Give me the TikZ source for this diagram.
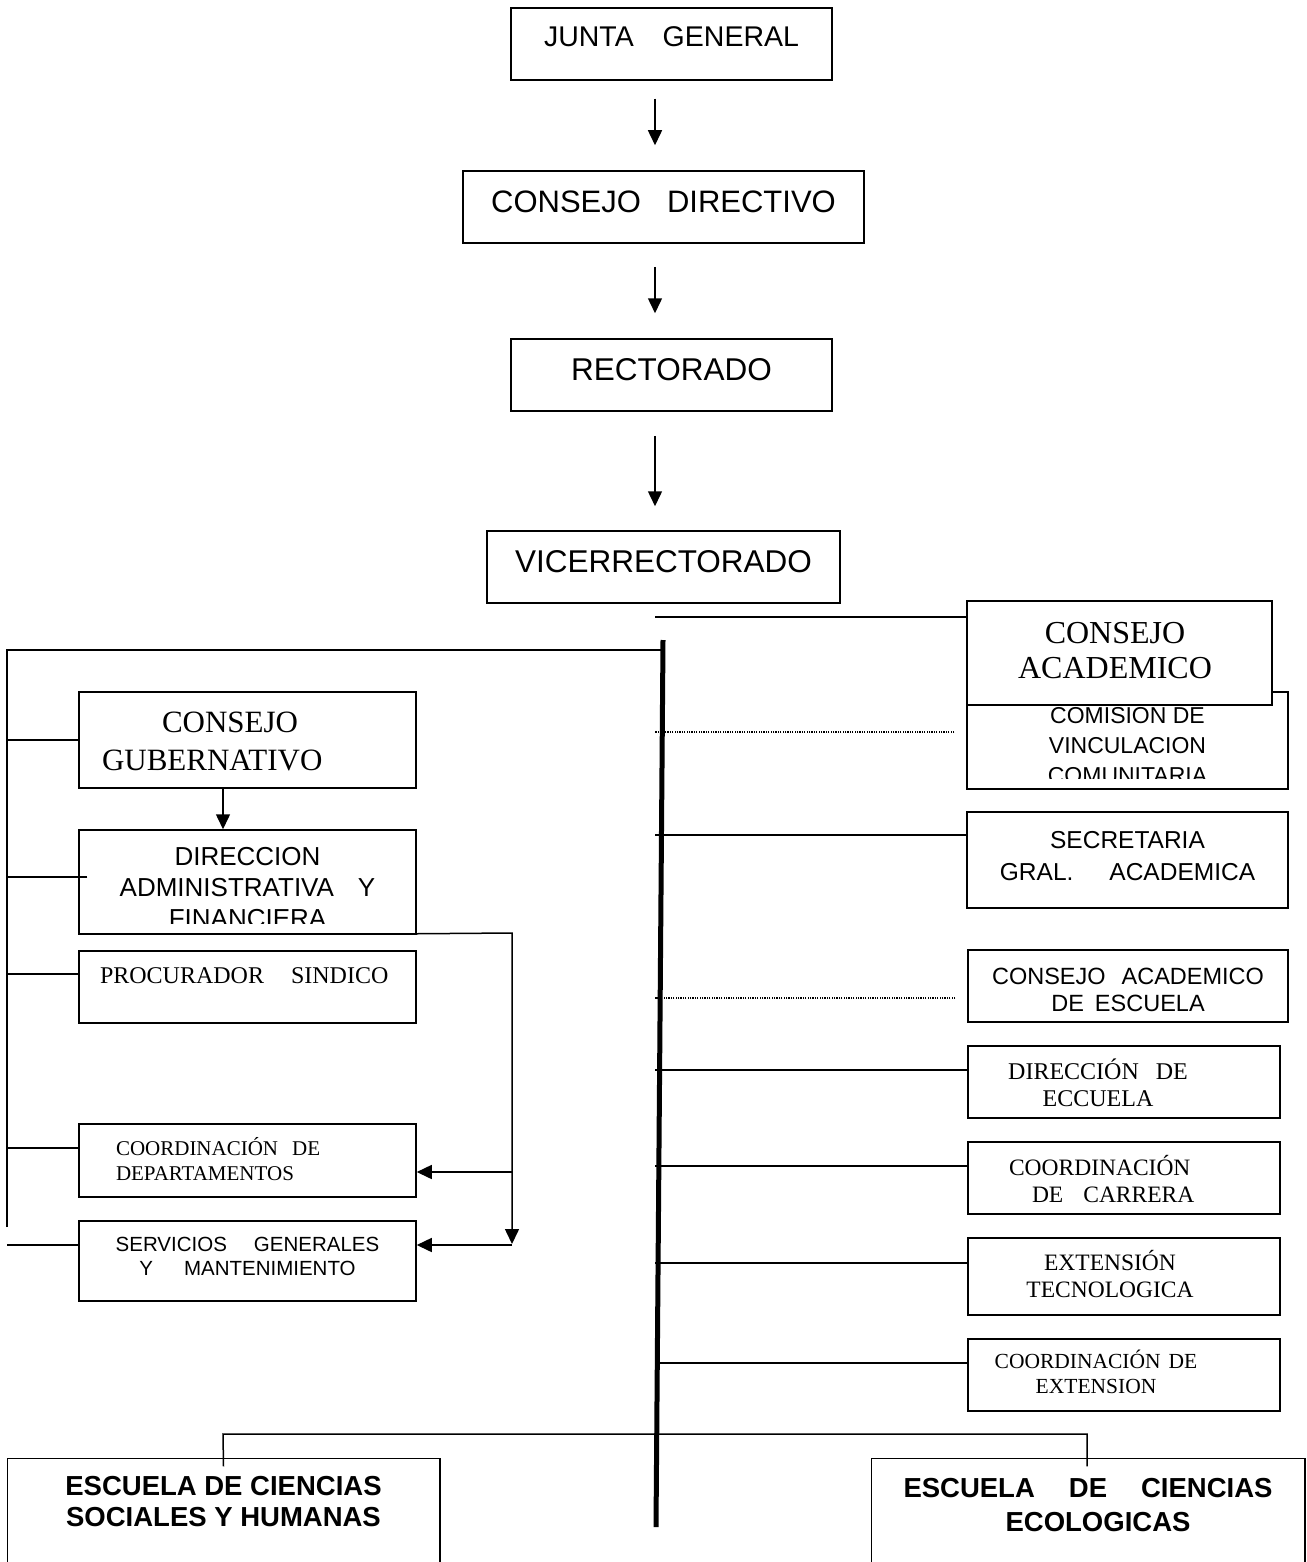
\documentclass[tikz,border=0pt]{standalone}
\usepackage{fontspec}
\setmainfont{Liberation Sans}
\newfontfamily\tnr{Liberation Serif}
\usetikzlibrary{arrows.meta,calc}
\newcommand\fs[2]{\fontsize{#1pt}{#2pt}\selectfont}
% centred lines: #1 = twice the x offset, #2 = raise of first baseline
\newcommand\tc[3]{\makebox[0pt][c]{\raisebox{#2pt}[0pt][0pt]{\hspace*{#1pt}\begin{tabular}[t]{@{}c@{}}#3\end{tabular}}}}
% left aligned lines: #1 = left edge offset, #2 = raise of first baseline
\newcommand\tl[3]{\makebox[0pt][l]{\hspace*{#1pt}\raisebox{#2pt}[0pt][0pt]{\begin{tabular}[t]{@{}l@{}}#3\end{tabular}}}}
\tikzset{
  box/.style={draw, rectangle, inner sep=0pt, fill=white, line width=1.5pt},
  arr/.style={-{Triangle[length=15pt,width=14pt]}},
  dotline/.style={line width=1.3pt, dash pattern=on 1.2pt off 1.2pt},
  spine/.style={line width=5pt}
}
\begin{document}
\begin{tikzpicture}[x=1pt,y=-1pt,line width=1.5pt]
\useasboundingbox (0,0) rectangle (1306,1562);
\coordinate (sx) at (655,0);
\coordinate (lx) at (7,0);
\coordinate (mx) at (512,0);

% ---- top chain ----
\node[box, minimum width=321pt, minimum height=72pt] (junta) at (671.5,44)
  {\fs{28.5}{34}\tc{0}{-3}{JUNTA\hspace{29pt}GENERAL}};
\node[box, minimum width=401pt, minimum height=72pt] (cdir) at (663.5,207)
  {\fs{31}{37}\tc{0}{-6}{CONSEJO\hspace{26pt}DIRECTIVO}};
\node[box, minimum width=321pt, minimum height=72pt] (rect) at (671.5,375)
  {\fs{31.5}{37}\tc{0}{-5}{RECTORADO}};
\node[box, minimum width=353pt, minimum height=72pt] (vice) at (663.5,567)
  {\fs{31.5}{37}\tc{0}{-5}{VICERRECTORADO}};

\draw[arr] ([xshift=-16.5pt,yshift=-18pt]junta.south) -- ([xshift=-8.5pt,yshift=25pt]cdir.north);
\draw[arr] ([xshift=-8.5pt,yshift=-23pt]cdir.south) -- ([xshift=-16.5pt,yshift=25pt]rect.north);
\draw[arr] ([xshift=-16.5pt,yshift=-24pt]rect.south) -- ([xshift=-8.5pt,yshift=24pt]vice.north);

% ---- spine ----
\coordinate (spT) at (663,640);
\coordinate (spB) at (656,1527);
\draw[spine] (spT) -- (spB);

% ---- right column ----
\node[box, minimum width=321pt, minimum height=97pt] (com) at (1127.5,740.5) {};
\begin{scope}
  \clip (968,700) rectangle (1287,778);
  \node[inner sep=0pt] (comT) at (1127.5,740.5)
    {\fs{23}{30}\tc{0}{17.5}{COMISION DE\\VINCULACION\\COMUNITARIA}};
\end{scope}
\node[box, minimum width=305pt, minimum height=104pt] (cacad) at (1119.5,653)
  {\tnr\fs{32}{35}\tc{-9}{10}{CONSEJO\\ACADEMICO}};
\node[box, minimum width=321pt, minimum height=96pt] (sec) at (1127.5,860)
  {\fs{24.5}{32}\tc{0}{12}{SECRETARIA\\GRAL.\hspace{36pt}ACADEMICA}};
\node[box, minimum width=320pt, minimum height=72pt] (cae) at (1128,986)
  {\fs{23.5}{27}\tc{0}{2}{CONSEJO\hspace{16pt}ACADEMICO\\DE\hspace{11pt}ESCUELA}};
\node[box, minimum width=312pt, minimum height=72pt] (desc) at (1124,1082)
  {\tnr\fs{24}{27}\tc{-52}{3}{DIRECCIÓN\hspace{17pt}DE\\ECCUELA}};
\node[box, minimum width=312pt, minimum height=72pt] (ccar) at (1124,1178)
  {\tnr\fs{23.5}{27}\tl{-115}{3}{COORDINACIÓN\\\hspace*{23pt}DE\hspace{20pt}CARRERA}};
\node[box, minimum width=312pt, minimum height=77pt] (ext) at (1124,1276.5)
  {\tnr\fs{23.5}{27}\tc{-28}{6.5}{EXTENSIÓN\\TECNOLOGICA}};
\node[box, minimum width=312pt, minimum height=72pt] (cext) at (1124,1375)
  {\tnr\fs{21.5}{25}\tc{-56}{7}{COORDINACIÓN\hspace{8pt}DE\\EXTENSION}};

\draw ([yshift=36pt]cacad.west) coordinate (r0) -- (r0 -| sx);
\draw[dotline] ([xshift=-12pt,yshift=8.5pt]com.west) coordinate (r1) -- (r1 -| sx);
\draw ([yshift=25pt]sec.west) coordinate (r2) -- (r2 -| sx);
\draw[dotline] ([xshift=-12pt,yshift=-12pt]cae.west) coordinate (r3) -- (r3 -| sx);
\draw ([yshift=12pt]desc.west) coordinate (r4) -- (r4 -| sx);
\draw ([yshift=12pt]ccar.west) coordinate (r5) -- (r5 -| sx);
\draw ([yshift=13.5pt]ext.west) coordinate (r6) -- (r6 -| sx);
\draw ([yshift=12pt]cext.west) coordinate (r7) -- (r7 -| sx);

% ---- left column ----
\node[box, minimum width=337pt, minimum height=96pt] (gub) at (247.5,740)
  {\tnr\fs{31}{38}\tl{-145.5}{8}{\hspace*{60pt}CONSEJO\\GUBERNATIVO}};
\node[box, minimum width=337pt, minimum height=104pt] (dir) at (247.5,882) {};
\begin{scope}
  \clip (80,831) rectangle (415,923);
  \node[inner sep=0pt] (dirT) at (247.5,882)
    {\fs{26}{31}\tc{0}{17}{DIRECCION\\ADMINISTRATIVA\hspace{24pt}Y\\FINANCIERA}};
\end{scope}
\node[box, minimum width=337pt, minimum height=72pt] (proc) at (247.5,987)
  {\tnr\fs{24}{29}\tl{-147.5}{4}{PROCURADOR\hspace{27pt}SINDICO}};
\node[box, minimum width=337pt, minimum height=73pt] (cdep) at (247.5,1160.5)
  {\tnr\fs{21}{25}\tl{-131.5}{5.5}{COORDINACIÓN\hspace{14pt}DE\\DEPARTAMENTOS}};
\node[box, minimum width=337pt, minimum height=80pt] (serv) at (247.5,1261)
  {\fs{20.5}{24}\tc{0}{10}{SERVICIOS\hspace{27pt}GENERALES\\Y\hspace{31pt}MANTENIMIENTO}};

\coordinate (lt) at (7,650);
\coordinate (lb) at (7,1227);
\draw (lb) -- (lt) -- (lt -| spT);
\draw (gub.west) -- (gub.west -| lx);
\draw ([xshift=9pt,yshift=5pt]dir.west) coordinate (l2) -- (l2 -| lx);
\draw ([yshift=13pt]proc.west) coordinate (l3) -- (l3 -| lx);
\draw ([yshift=12.5pt]cdep.west) coordinate (l4) -- (l4 -| lx);
\draw ([yshift=16pt]serv.west) coordinate (l5) -- (l5 -| lx);

\draw[arr] ([xshift=-24.5pt]gub.south) -- ([xshift=-24.5pt]dir.north);
\coordinate (m1) at (512,933);
\coordinate (m2) at (512,1244);
\draw[arr] ([yshift=1pt]dir.south east) -- (m1) -- (m2);
\path ([yshift=-11.5pt]cdep.east) coordinate (e1);
\path ([yshift=16pt]serv.east) coordinate (e2);
\draw[arr] (e1 -| mx) -- (e1);
\draw[arr] (e2 -| mx) -- (e2);

% ---- schools ----
\node[minimum width=431pt, minimum height=103pt, inner sep=0pt] (escL) at (223.5,1510.5)
  {\bfseries\fs{27.5}{31}\tc{0}{15.5}{ESCUELA DE CIENCIAS\\SOCIALES Y HUMANAS}};
\node[minimum width=432pt, minimum height=103pt, inner sep=0pt] (escR) at (1088,1510.5)
  {\bfseries\fs{27.5}{34}\tc{0}{13.5}{ESCUELA\hspace{34pt}DE\hspace{34pt}CIENCIAS\\\hspace*{20pt}ECOLOGICAS}};
\draw (escL.south west) -- (escL.north west) -- (escL.north east) -- (escL.south east);
\draw (escR.south west) -- (escR.north west) -- (escR.north east) -- (escR.south east);
\coordinate (bl) at (223,1434);
\coordinate (br) at (1087,1434);
\draw ([yshift=-8pt]escL.north) -- (bl) -- (br) -- ([xshift=-1pt,yshift=-8pt]escR.north);
\end{tikzpicture}
\end{document}
